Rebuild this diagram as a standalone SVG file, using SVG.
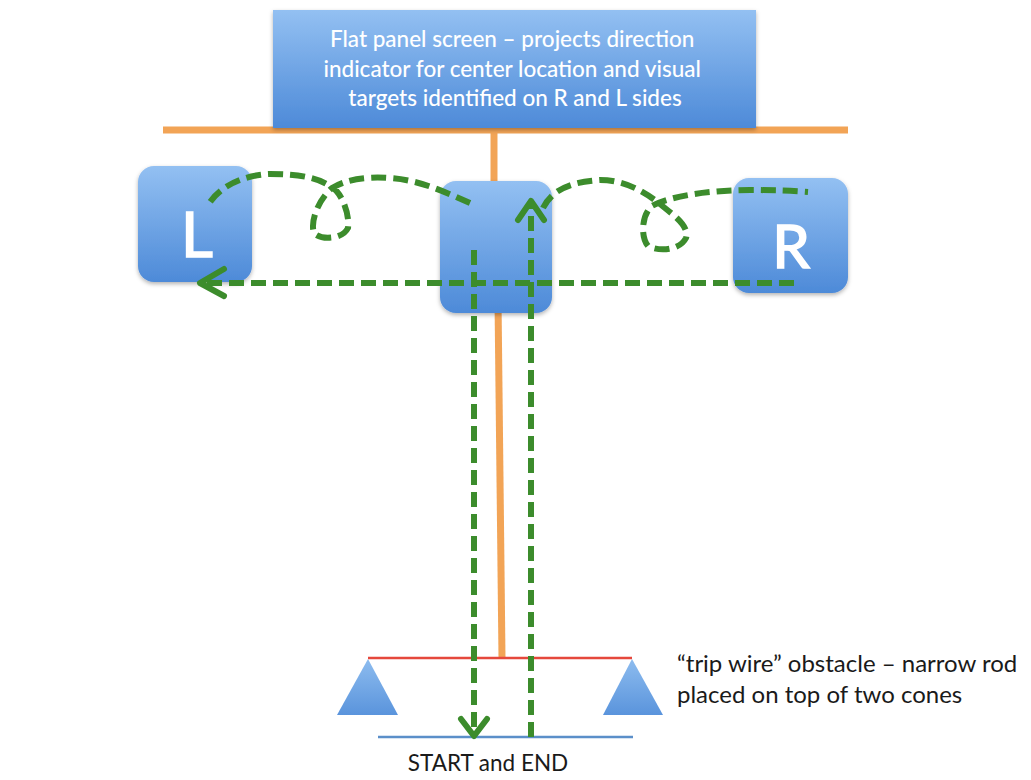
<svg xmlns="http://www.w3.org/2000/svg" width="1031" height="780" viewBox="0 0 1031 780">
  <defs>
    <linearGradient id="boxFill" x1="0" y1="0" x2="0" y2="1">
      <stop offset="0" stop-color="#93c0f2"/>
      <stop offset="1" stop-color="#4d8ad8"/>
    </linearGradient>
    <linearGradient id="coneFill" x1="0" y1="0" x2="0" y2="1">
      <stop offset="0" stop-color="#8dbcef"/>
      <stop offset="1" stop-color="#5a94dc"/>
    </linearGradient>
    <filter id="shade" x="-10%" y="-10%" width="120%" height="130%">
      <feDropShadow dx="0" dy="2" stdDeviation="2" flood-color="#000" flood-opacity="0.3"/>
    </filter>
    <style>
      .box { fill: url(#boxFill); filter: url(#shade); }
      .rod { stroke: #f2a456; stroke-width: 7; fill: none; }
      .path { stroke: #3c8c2c; stroke-width: 6; fill: none; stroke-dasharray: 15 7; }
      .head { stroke: #3c8c2c; stroke-width: 6; fill: none; stroke-linecap: round; stroke-linejoin: round; }
      .lbl { font-family: Lato, "Open Sans", sans-serif; }
      .white { fill: #ffffff; }
      .side { stroke: #ffffff; stroke-width: 1.6; }
      .dark { fill: #1a1a1a; }
    </style>
  </defs>

  <!-- support rods -->
  <g id="rods">
    <line class="rod" x1="163" y1="130" x2="848" y2="130"/>
    <line class="rod" x1="494" y1="130" x2="494" y2="190"/>
    <line class="rod" x1="498" y1="300" x2="502" y2="658"/>
  </g>

  <!-- screen panel -->
  <g id="screen">
    <rect class="box" x="273" y="10" width="483" height="118"/>
    <text class="lbl white" font-size="22.5" font-weight="500" text-anchor="middle">
      <tspan x="515" y="47">Flat panel screen – projects direction</tspan>
      <tspan x="515" y="77">indicator for center location and visual</tspan>
      <tspan x="515" y="106">targets identified on R and L sides</tspan>
    </text>
  </g>

  <g id="left-target">
    <rect class="box" x="138" y="166" width="114" height="116" rx="16"/>
    <text class="lbl white side" x="197" y="257" font-size="62" text-anchor="middle">L</text>
  </g>

  <g id="center-target">
    <rect class="box" x="440" y="181" width="112" height="132" rx="16"/>
  </g>

  <g id="right-target">
    <rect class="box" x="733" y="178" width="115" height="115" rx="16"/>
    <text class="lbl white side" x="791" y="268" font-size="60" text-anchor="middle">R</text>
  </g>

  <!-- trip wire obstacle -->
  <g id="trip-wire">
    <polygon points="368,659 337,715 398,715" fill="url(#coneFill)"/>
    <polygon points="632,659 603,715 663,715" fill="url(#coneFill)"/>
    <line x1="368" y1="658" x2="632" y2="658" stroke="#e5483c" stroke-width="2.5"/>
    <text class="lbl dark" font-size="24">
      <tspan x="677" y="672">“trip wire” obstacle – narrow rod</tspan>
      <tspan x="677" y="703">placed on top of two cones</tspan>
    </text>
  </g>

  <g id="start-end">
    <line x1="378" y1="737" x2="633" y2="737" stroke="#5b8fc9" stroke-width="2.5"/>
    <text class="lbl dark" x="488" y="771" font-size="22.5" text-anchor="middle">START and END</text>
  </g>

  <!-- walking route -->
  <g id="connectors">
    <!-- center to left, with a loop -->
    <path class="path" d="M470,203 C445,192 420,180 390,178 C365,176 345,180 332,188 C318,200 310,222 314,233 C320,240 342,240 348,228 C350,212 340,190 330,186 C318,178 300,174 270,174 C245,175 222,185 210,202"/>
    <!-- center to right, with a loop -->
    <path class="path" d="M543,208 C552,190 570,182 600,180 C625,180 645,192 660,204 C672,214 690,226 686,238 C680,250 660,252 648,246 C640,236 642,214 652,206 C670,196 710,190 750,190 C775,190 795,191 808,192"/>
    <!-- return from right to left -->
    <path class="path" d="M794,283 L203,283"/>
    <path class="head" d="M224,269 L200,283 L224,296"/>
    <!-- outbound down to start -->
    <path class="path" d="M474,250 L474,733"/>
    <path class="head" d="M461,719 L474,736 L487,719"/>
    <!-- return up from start -->
    <path class="path" d="M531,737 L531,203"/>
    <path class="head" d="M518,220 L531,201 L544,220"/>
  </g>
</svg>
